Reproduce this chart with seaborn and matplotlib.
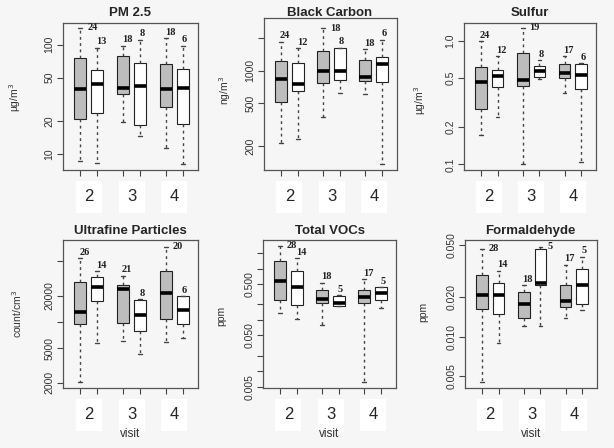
import numpy as np
import pandas as pd
import matplotlib
matplotlib.use('Agg')
import matplotlib.pyplot as plt
import seaborn as sns

# five-number summaries: [min, q1, median, q3, max]
# box order: visit 2 (gray, white), visit 3 (gray, white), visit 4 (gray, white)
pm25 = [[8.6, 20.7, 39, 76, 143], [8.2, 23.4, 43.6, 58, 94],
        [19.4, 35, 40.4, 79, 98], [14.7, 18.5, 42, 68, 111],
        [11.2, 26.9, 39, 66, 115], [8.1, 18.9, 40, 60, 98]]
pm25_n = [24, 13, 18, 8, 18, 6]

bc = [[212, 517, 842, 1230, 1875], [234, 647, 757, 1179, 1625],
      [370, 767, 1007, 1514, 2500], [628, 830, 1007, 1625, 1649],
      [615, 801, 873, 1266, 1591], [137, 784, 1170, 1360, 1945]]
bc_n = [24, 12, 18, 8, 18, 6]

sulfur = [[0.173, 0.282, 0.463, 0.616, 1.0], [0.243, 0.427, 0.521, 0.586, 0.751],
          [0.101, 0.435, 0.487, 0.80, 1.28], [0.49, 0.512, 0.575, 0.632, 0.698],
          [0.380, 0.499, 0.548, 0.656, 0.751], [0.104, 0.407, 0.528, 0.656, 0.66]]
sulfur_n = [24, 12, 19, 8, 17, 6]

ufp = [[2020, 9440, 13100, 29000, 53700], [5770, 17200, 24900, 32500, 38400],
       [6080, 9610, 23700, 26300, 33700], [4240, 7920, 11900, 18000, 18100],
       [5820, 10800, 21300, 38400, 73100], [6580, 9380, 13600, 19700, 19800]]
ufp_n = [26, 14, 21, 8, 20, 6]

vocs = [[0.134, 0.244, 0.564, 1.43, 2.79], [0.103, 0.198, 0.444, 0.895, 1.58],
        [0.0807, 0.210, 0.259, 0.376, 0.531], [0.184, 0.186, 0.216, 0.298, 0.30],
        [0.00617, 0.213, 0.283, 0.382, 0.625], [0.168, 0.248, 0.339, 0.43, 0.432]]
vocs_n = [28, 14, 18, 5, 17, 5]

form = [[0.00452, 0.0164, 0.0208, 0.0298, 0.0468], [0.0090, 0.0149, 0.0208, 0.0259, 0.032],
        [0.0120, 0.0138, 0.0179, 0.0218, 0.0247], [0.0120, 0.0247, 0.0259, 0.0471, 0.0488],
        [0.0138, 0.0168, 0.0189, 0.0247, 0.0355], [0.0160, 0.0178, 0.0248, 0.0329, 0.0408]]
form_n = [28, 14, 18, 5, 17, 5]

visits = ['2', '3', '4']
groups = ['a', 'b']

titles = ['PM 2.5', 'Black Carbon', 'Sulfur', 'Ultrafine Particles', 'Total VOCs', 'Formaldehyde']
units = ['µg/m$^3$', 'ng/m$^3$', 'µg/m$^3$', 'count/cm$^3$', 'ppm', 'ppm']
yticks = [[10, 20, 50, 100], [200, 500, 1000, 2000], [0.1, 0.2, 0.5, 1.0],
          [2000, 5000, 10000, 20000, 50000],
          [0.005, 0.01, 0.02, 0.05, 0.1, 0.2, 0.5, 1, 2],
          [0.005, 0.01, 0.02, 0.05]]
yticklabels = [['10', '20', '50', '100'], ['200', '500', '1000', ''],
               ['0.1', '0.2', '0.5', '1.0'], ['2000', '5000', '', '20000', ''],
               ['0.005', '', '', '0.050', '', '', '0.500', '', ''],
               ['0.005', '0.010', '0.020', '0.050']]
ylims = [(7.1, 158), (120, 3100), (0.09, 1.40), (1740, 87300), (0.0047, 3.6), (0.00406, 0.0548)]

summaries = [pm25, bc, sulfur, ufp, vocs, form]
counts = [pm25_n, bc_n, sulfur_n, ufp_n, vocs_n, form_n]

W, H = 614, 448
# axes boxes in pixels: left, right, top, bottom
boxes = [(63, 198, 23, 170), (264, 397, 18, 170), (464, 596, 23, 170),
         (63, 198, 240, 388), (263, 396, 240, 388), (465, 597, 240, 388)]
title_xy = [(130, 13), (330, 13), (530, 13), (130, 231), (330, 231), (530, 231)]
ylab_xy = [(15, 97), (225, 90), (420, 100), (17, 314), (221, 316), (423, 312)]

sns.set_theme(style='ticks')
plt.rcParams['font.family'] = ['Liberation Sans', 'DejaVu Sans']

bg = '#f6f6f6'
fig = plt.figure(figsize=(W / 100, H / 100), dpi=100, facecolor=bg)

for k in range(6):
    rows = []
    for i, s in enumerate(summaries[k]):
        for v in s:
            rows.append({'visit': visits[i // 2], 'group': groups[i % 2], 'value': v})
    df = pd.DataFrame(rows)

    l, r, t, b = boxes[k]
    ax = fig.add_axes([l / W, 1 - b / H, (r - l) / W, (b - t) / H])
    ax.set_facecolor(bg)
    ax.set_yscale('log')
    sns.boxplot(data=df, x='visit', y='value', hue='group', order=visits, hue_order=groups,
                palette={'a': '#bdbdbd', 'b': 'white'}, saturation=1, dodge=True,
                width=0.8, gap=0.3, whis=(0, 100), linecolor='#222222', linewidth=0.8,
                legend=False, ax=ax,
                medianprops=dict(color='black', linewidth=2.6),
                whiskerprops=dict(linestyle=(0, (2, 2.5)), linewidth=1.0, color='#444444'),
                capprops=dict(color='#444444', linewidth=1.0))

    # narrower whisker caps, R style
    for ln in ax.lines:
        xd = np.asarray(ln.get_xdata(), dtype=float)
        yd = np.asarray(ln.get_ydata(), dtype=float)
        if len(xd) == 2 and yd[0] == yd[1] and 0 < abs(xd[1] - xd[0]) < 0.2 and ln.get_linewidth() < 2:
            c = xd.mean()
            ln.set_xdata([c - 0.045, c + 0.045])

    ax.set_ylim(*ylims[k])
    ax.set_xlim(-0.6, 2.55)

    # sample sizes at the top of each whisker
    lo, hi = np.log(ylims[k][0]), np.log(ylims[k][1])
    for i, s in enumerate(summaries[k]):
        xpos = i // 2 + (-0.2 if i % 2 == 0 else 0.2)
        frac = (np.log(s[4]) - lo) / (hi - lo)
        off = (7, 0) if frac > 0.93 else (-1, 6)
        ax.annotate(str(counts[k][i]), (xpos, s[4]), xytext=off, textcoords='offset pixels',
                    ha='left', va='center', fontsize=7.5, fontweight='bold',
                    family=['Liberation Serif', 'DejaVu Serif'], color='#222222')

    ax.set_yticks(yticks[k])
    ax.set_yticklabels(yticklabels[k], rotation=90, va='center', fontsize=7.5, color='#333333')
    ax.yaxis.set_minor_locator(matplotlib.ticker.NullLocator())
    ax.tick_params(axis='y', length=4, width=0.8, pad=2, color='#444444')

    ax.set_xticks([0, 1, 2])
    ax.set_xticklabels(visits, fontsize=12)
    ax.set_xticks([-0.2, 0.2, 0.8, 1.2, 1.8, 2.2], minor=True)
    ax.tick_params(axis='x', which='major', length=0, pad=14)
    ax.tick_params(axis='x', which='minor', length=4, width=0.8, color='#444444')
    for lab in ax.get_xticklabels():
        lab.set_bbox(dict(facecolor='white', edgecolor='none', pad=6))
    ax.set_xlabel('')
    ax.set_ylabel('')
    for sp in ax.spines.values():
        sp.set_visible(True)
        sp.set_color('#555555')
        sp.set_linewidth(0.9)

    tx, ty = title_xy[k]
    fig.text(tx / W, 1 - ty / H, titles[k], ha='center', va='center', fontsize=9.5, fontweight='bold')
    yx, yy = ylab_xy[k]
    fig.text(yx / W, 1 - yy / H, units[k], ha='center', va='center', rotation=90, fontsize=7.5,
             color='#333333')
    if k >= 3:
        fig.text(((l + r) / 2) / W, 1 - 434 / H, 'visit', ha='center', va='center', fontsize=8.5,
                 color='#333333')

fig.savefig('out.png', dpi=100, facecolor=bg)
